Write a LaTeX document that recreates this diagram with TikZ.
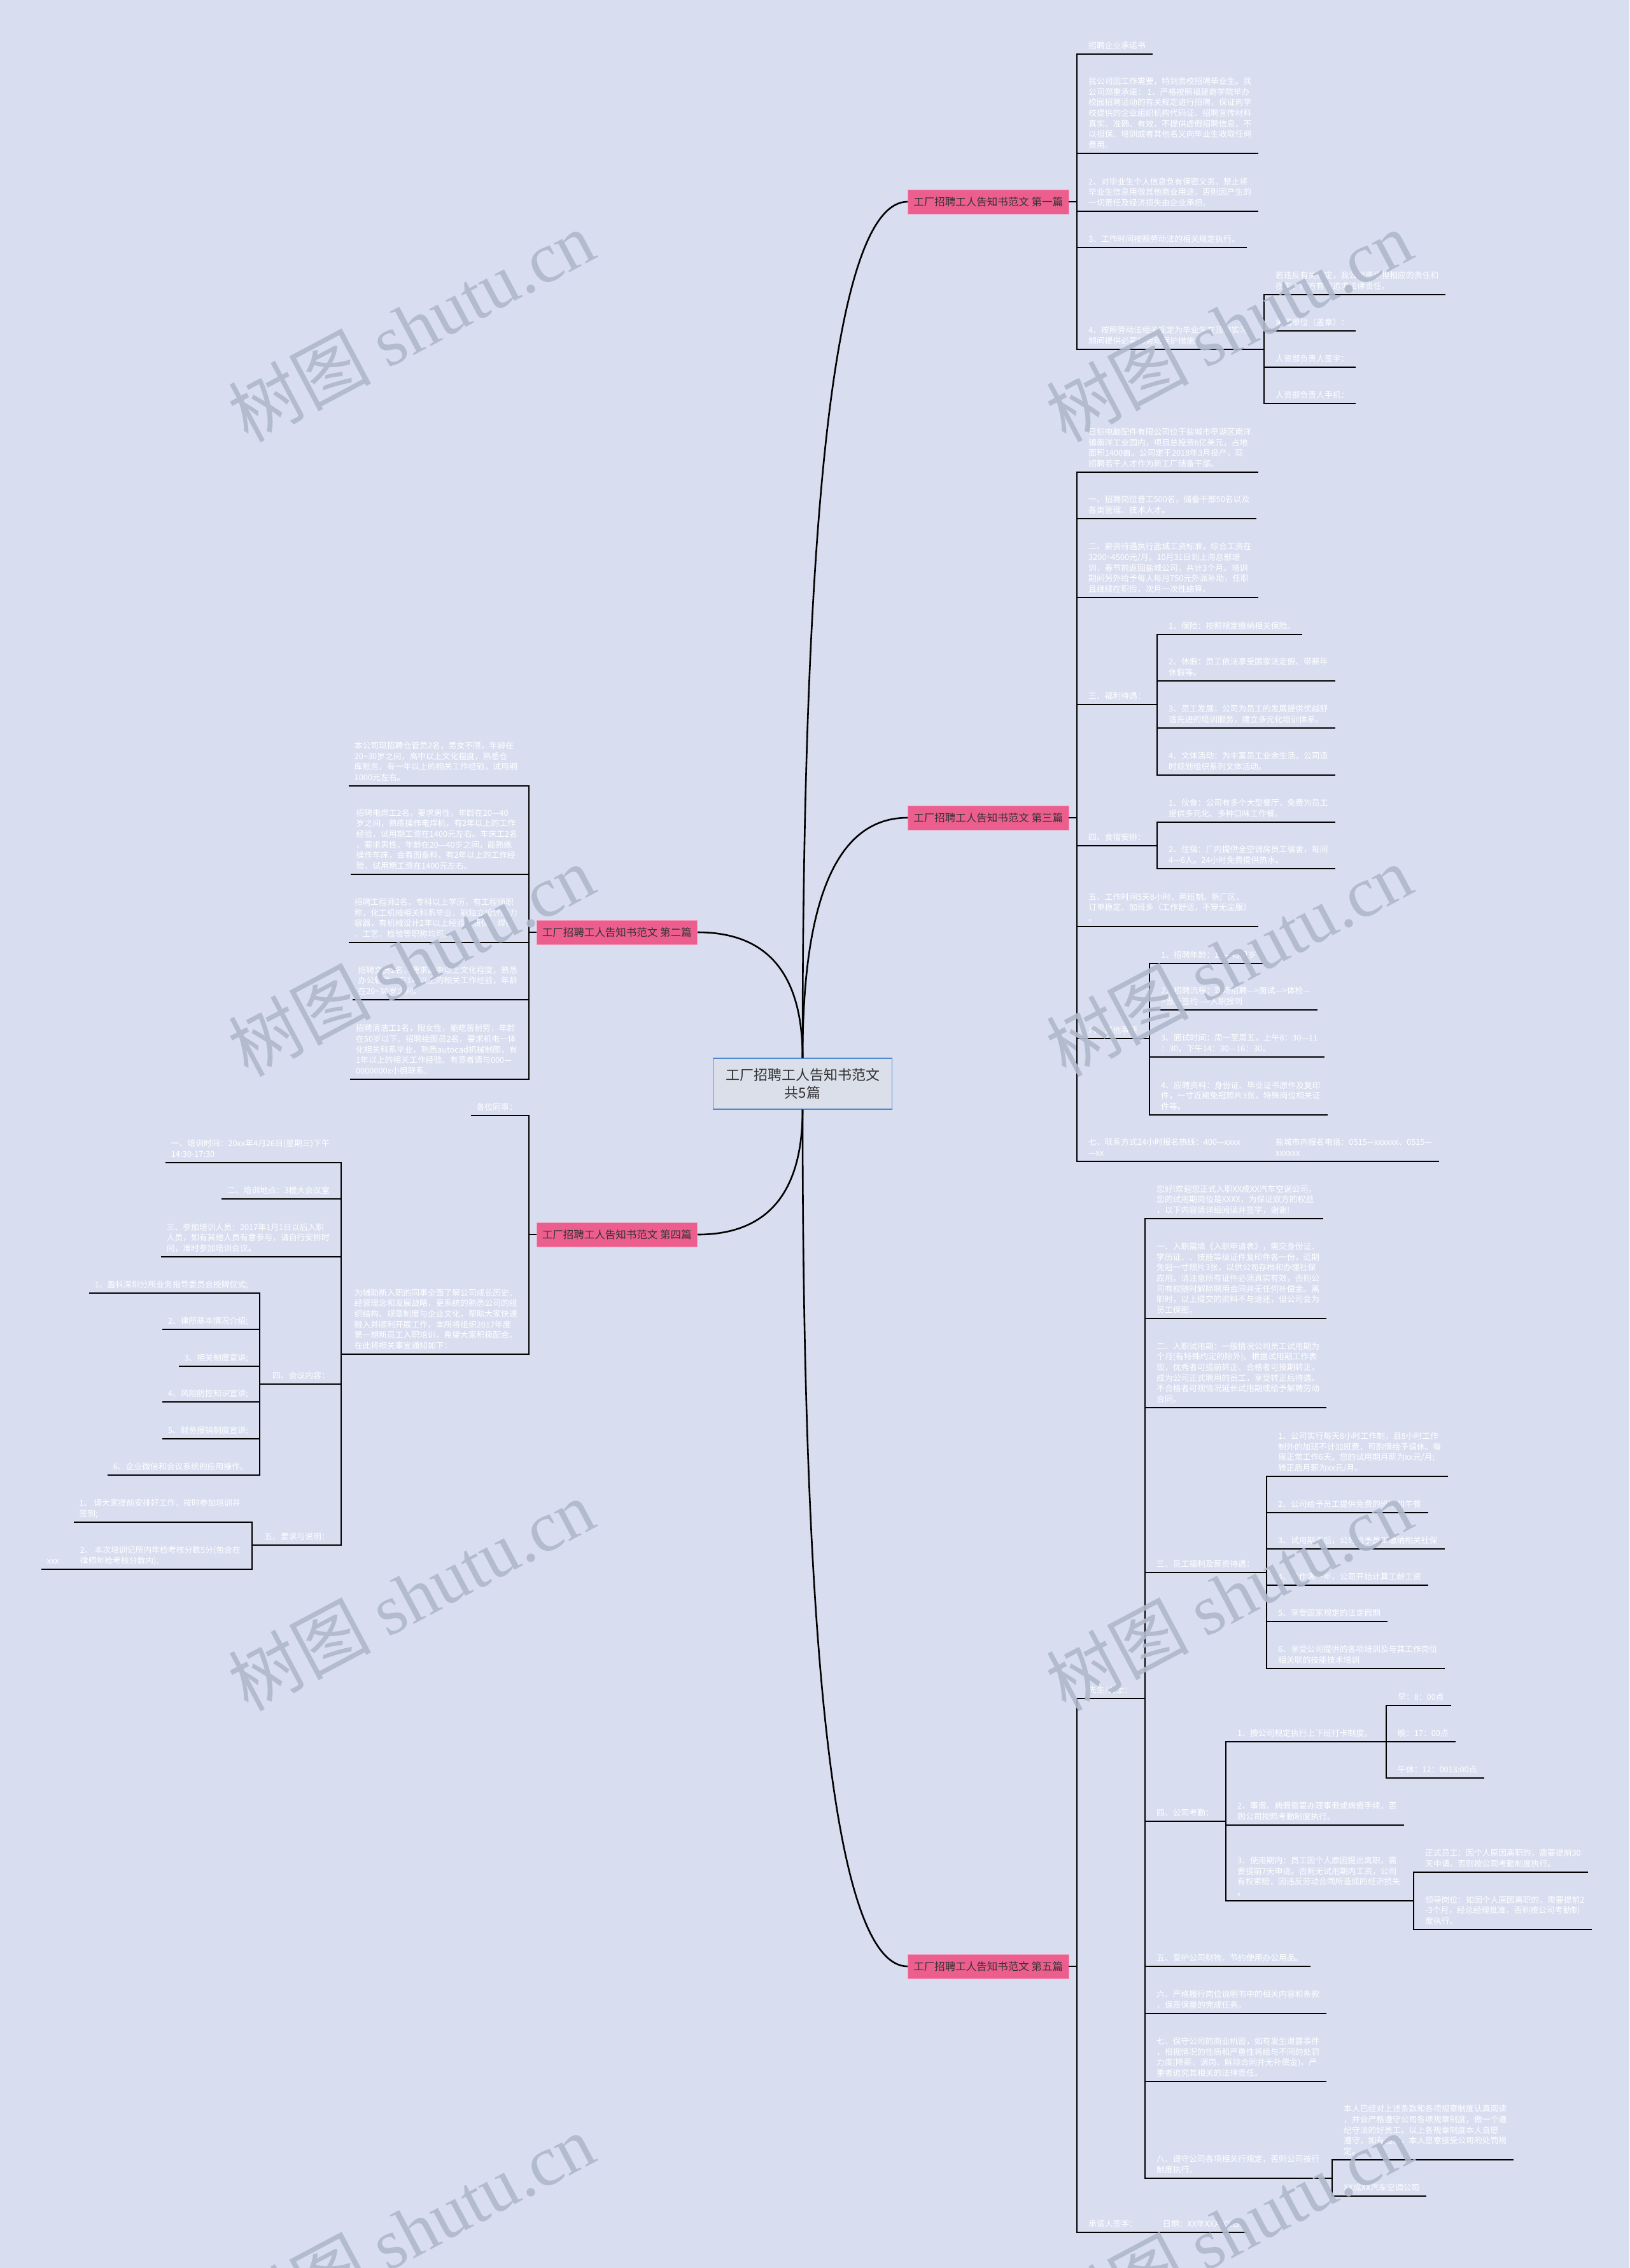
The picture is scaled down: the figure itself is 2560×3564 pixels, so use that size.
\documentclass[tikz,border=0pt]{standalone}
\usepackage{fontspec}
\setmainfont{Noto Sans CJK SC}
\newfontfamily\wmserif{Liberation Serif}
\usetikzlibrary{calc}

\definecolor{pagebg}{RGB}{216,222,240}
\definecolor{labelpink}{RGB}{236,94,141}
\definecolor{labeledge}{RGB}{244,150,184}
\definecolor{rootfill}{RGB}{219,223,233}
\definecolor{rootedge}{RGB}{80,136,210}
\definecolor{darktext}{RGB}{51,51,51}
\definecolor{markgray}{RGB}{176,184,204}

% item text sitting on its underline; #1 name, #2 spine x, #3 underline y, #4 text
\newcommand{\ritem}[4]{%
  \node[itemtext, anchor=south west] (#1) at ({#2+18},{#3-3.6}) {#4};
  \coordinate (#1-a) at (#2,#3);
  \coordinate (#1-b) at ($(#1.east |- #1-a)+(10,0)$);}
\newcommand{\litem}[4]{%
  \node[itemtext, anchor=south east] (#1) at ({#2-18},{#3-3.6}) {#4};
  \coordinate (#1-a) at (#2,#3);
  \coordinate (#1-b) at ($(#1.west |- #1-a)+(-8,0)$);}
\newcommand{\leafline}[1]{\draw[uline] (#1-a) -- (#1-b);}
\newcommand{\forkline}[2]{\draw[uline] (#1-a) -- (#1-a -| #2-a);}
\newcommand{\spineline}[2]{\draw[uline] (#1-a) -- (#2-a);}

\begin{document}
\begin{tikzpicture}[x=1pt, y=-1pt,
  itemtext/.style={text=white, font=\fontsize{12.8}{16.6}\selectfont, align=left, inner sep=0pt, execute at end node=\strut},
  uline/.style={line width=1.6pt, black, line cap=rect},
  curve/.style={line width=2.6pt, black},
  branchbox/.style={fill=labelpink, draw=labeledge, line width=0.8pt, text=darktext, font=\fontsize{16.5}{19}\selectfont, minimum height=38pt, inner xsep=9pt, inner ysep=0pt},
  rootbox/.style={fill=rootfill, draw=rootedge, line width=1.2pt, text=darktext, font=\fontsize{22}{28}\selectfont, align=center, minimum width=281pt, minimum height=80pt, inner sep=0pt},
  watermark/.style={text=markgray, opacity=0.9, rotate=28, inner sep=0pt, font=\fontsize{112}{112}\selectfont}]
  \useasboundingbox (0,0) rectangle (2560,3564);
  \fill[pagebg] (0,0) rectangle (2560,3564);

  % root
  \node[rootbox] (root) at (1261,1703) {工厂招聘工人告知书范文\\共5篇};

  % branch labels
  \node[branchbox, anchor=west] (b1) at (1426,317) {工厂招聘工人告知书范文 第一篇};
  \node[branchbox, anchor=west] (b3) at (1426,1285) {工厂招聘工人告知书范文 第三篇};
  \node[branchbox, anchor=west] (b5) at (1426,3090) {工厂招聘工人告知书范文 第五篇};
  \node[branchbox, anchor=east] (b2) at (1096,1465) {工厂招聘工人告知书范文 第二篇};
  \node[branchbox, anchor=east] (b4) at (1096,1940) {工厂招聘工人告知书范文 第四篇};

  \draw[curve] (root.north) .. controls +(0,-897) and +(-110,0) .. (b1.west);
  \draw[curve] (root.north) .. controls +(0,-252) and +(-110,0) .. (b3.west);
  \draw[curve] (root.north) .. controls +(0,-132) and +(110,0) .. (b2.east);
  \draw[curve] (root.south) .. controls +(0,131) and +(110,0) .. (b4.east);
  \draw[curve] (root.south) .. controls +(0,898) and +(-110,0) .. (b5.west);

  % ---- first text
  \ritem{p11}{1692}{85}{招聘企业承诺书}
  \ritem{p12}{1692}{241}{我公司因工作需要，特到贵校招聘毕业生。我\\公司郑重承诺： 1、严格按照福建商学院举办\\校园招聘活动的有关规定进行招聘，保证向学\\校提供的企业组织机构代码证、招聘宣传材料\\真实、准确、有效，不提供虚假招聘信息，不\\以担保、培训或者其他名义向毕业生收取任何\\费用。}
  \ritem{p13}{1692}{332}{2、对毕业生个人信息负有保密义务，禁止将\\毕业生信息用做其他商业用途，否则因产生的\\一切责任及经济损失由企业承担。}
  \ritem{p14}{1692}{389}{3、工作时间按照劳动法的相关规定执行。}
  \ritem{p15}{1692}{549}{4、按照劳动法相关规定为毕业生在顶岗实习\\期间提供必要的劳动保护措施。}
  \ritem{p151}{1986}{463}{若违反有关规定，我公司愿承担相应的责任和\\损失，校方有权追求法律责任。}
  \ritem{p152}{1986}{520}{承诺单位（盖章）：}
  \ritem{p153}{1986}{577}{人资部负责人签字：}
  \ritem{p154}{1986}{634}{人资部负责人手机：}
  \draw[uline] (b1.east) -- (b1.east -| p11-a);
  \spineline{p11}{p15}
  \leafline{p11} \leafline{p12} \leafline{p13} \leafline{p14}
  \forkline{p15}{p151} \spineline{p151}{p154}
  \leafline{p151} \leafline{p152} \leafline{p153} \leafline{p154}

  % ---- third text
  \ritem{p31}{1692}{742}{日铠电脑配件有限公司位于盐城市亭湖区南洋\\镇南洋工业园内，项目总投资6亿美元，占地\\面积1400亩。公司定于2018年3月投产，现\\招聘若干人才作为新工厂储备干部。}
  \ritem{p32}{1692}{815}{一、招聘岗位普工500名，储备干部50名以及\\各类管理、技术人才。}
  \ritem{p33}{1692}{939}{二、薪资待遇执行盐城工资标准，综合工资在\\3200\textasciitilde4500元/月。10月31日到上海总部培\\训，春节前返回盐城公司，共计3个月。培训\\期间另外给予每人每月750元外派补助，任职\\且继续在职后，次月一次性结算。}
  \ritem{p34}{1692}{1107}{三、福利待遇：}
  \ritem{p341}{1818}{997}{1、保险：按照规定缴纳相关保险。}
  \ritem{p342}{1818}{1070}{2、休假：员工依法享受国家法定假、带薪年\\休假等。}
  \ritem{p343}{1818}{1144}{3、员工发展：公司为员工的发展提供优越舒\\适先进的培训服务，建立多元化培训体系。}
  \ritem{p344}{1818}{1218}{4、文体活动：为丰富员工业余生活，公司适\\时规划组织系列文体活动。}
  \ritem{p35}{1692}{1329}{四、食宿安排：}
  \ritem{p351}{1818}{1292}{1、伙食：公司有多个大型餐厅，免费为员工\\提供多元化、多种口味工作餐。}
  \ritem{p352}{1818}{1365}{2、住宿：厂内提供全空调房员工宿舍，每间\\4—6人。24小时免费提供热水。}
  \ritem{p36}{1692}{1456}{五、工作时间5天8小时，两班制。新厂区、\\订单稳定、加班多（工作舒适，不穿无尘服）\\。}
  \ritem{p37}{1692}{1632}{六、其他事项}
  \ritem{p371}{1806}{1514}{1、招聘年龄：18—45周岁}
  \ritem{p372}{1806}{1587}{2、招聘流程：现场招聘—>面试—>体检—\\>当场签约—>入职报到}
  \ritem{p373}{1806}{1661}{3、面试时间：周一至周五，上午8：30—11\\：30，下午14：30—16：30。}
  \ritem{p374}{1806}{1752}{4、应聘资料：身份证、毕业证书原件及复印\\件，一寸近期免冠照片3张，特殊岗位相关证\\件等。}
  \ritem{p38}{1692}{1825}{七、联系方式24小时报名热线：400—xxxx\\—xx}
  \ritem{p381}{1986}{1825}{盐城市内报名电话：0515—xxxxxx、0515—\\xxxxxx}
  \draw[uline] (b3.east) -- (b3.east -| p31-a);
  \spineline{p31}{p38}
  \leafline{p31} \leafline{p32} \leafline{p33} \leafline{p36}
  \forkline{p34}{p341} \spineline{p341}{p344}
  \leafline{p341} \leafline{p342} \leafline{p343} \leafline{p344}
  \forkline{p35}{p351} \spineline{p351}{p352}
  \leafline{p351} \leafline{p352}
  \forkline{p37}{p371} \spineline{p371}{p374}
  \leafline{p371} \leafline{p372} \leafline{p373} \leafline{p374}
  \forkline{p38}{p381} \leafline{p381}

  % ---- fifth text
  \ritem{p51}{1692}{2669}{先生/女士：}
  \ritem{p511}{1799}{1915}{您好!欢迎您正式入职XX成XX汽车空调公司，\\您的试用期岗位是XXXX，为保证双方的权益\\，以下内容请详细阅读并签字，谢谢!}
  \ritem{p512}{1799}{2072}{一、入职需填《入职申请表》，需交身份证、\\学历证、、技能等级证件复印件各一份，近期\\免冠一寸照片3张，以供公司存档和办理社保\\应用。请注意所有证件必须真实有效，否则公\\司有权随时解除聘用合同并无任何补偿金。离\\职时，以上提交的资料不与退还，但公司会为\\员工保密。}
  \ritem{p513}{1799}{2212}{二、入职试用期：一般情况公司员工试用期为\\个月(有特殊约定的除外)。根据试用期工作表\\现，优秀者可提前转正、合格者可按期转正，\\成为公司正式聘用的员工，享受转正后待遇。\\不合格者可视情况延长试用期或给予解聘劳动\\合同。}
  \ritem{p514}{1799}{2471}{三、员工福利及薪资待遇：}
  \ritem{p5141}{1990}{2320}{1、公司实行每天8小时工作制，且8小时工作\\制外的加班不计加班费，可酌情给予调休。每\\周正常工作6天。您的试用期月薪为xx元/月;\\转正后月薪为xx元/月。}
  \ritem{p5142}{1990}{2377}{2、公司给予员工提供免费的班车和午餐}
  \ritem{p5143}{1990}{2434}{3、试用期满后，公司给予员工缴纳相关社保}
  \ritem{p5144}{1990}{2491}{4、工作满一年，公司开始计算工龄工资}
  \ritem{p5145}{1990}{2548}{5、享受国家规定的法定假期}
  \ritem{p5146}{1990}{2622}{6、享受公司提供的各项培训及与其工作岗位\\相关联的技能技术培训}
  \ritem{p515}{1799}{2862}{四、公司考勤：}
  \ritem{p5151}{1926}{2737}{1、按公司规定执行上下班打卡制度。}
  \ritem{p51511}{2178}{2680}{早：8：00点}
  \ritem{p51512}{2178}{2737}{晚：17：00点}
  \ritem{p51513}{2178}{2794}{午休：12：0013:00点}
  \ritem{p5152}{1926}{2868}{2、事假、病假需要办理事假或病假手续，否\\则公司按照考勤制度执行。}
  \ritem{p5153}{1926}{2987}{3、使用期内：员工因个人原因提出离职，需\\要提前7天申请。否则无试用期内工资，公司\\有权索赔，因违反劳动合同所造成的经济损失\\。}
  \ritem{p51531}{2221}{2942}{正式员工：因个人原因离职的，需要提前30\\天申请。否则按公司考勤制度执行。}
  \ritem{p51532}{2221}{3032}{领导岗位：如因个人原因离职的，需要提前2\\-3个月，经总经理批准，否则按公司考勤制\\度执行。}
  \ritem{p516}{1799}{3090}{五、爱护公司财物，节约使用办公用品。}
  \ritem{p517}{1799}{3164}{六、严格履行岗位说明书中的相关内容和条款\\，保质保量的完成任务。}
  \ritem{p518}{1799}{3271}{七、保守公司的商业机密，如有发生泄露事件\\，根据情况的性质和严重性将给与不同的处罚\\力度(降薪、调岗、解除合同并无补偿金)，严\\重者追究其相关的法律责任。}
  \ritem{p519}{1799}{3423}{八、遵守公司各项相关行规定，否则公司按行\\制度执行。}
  \ritem{p5191}{2093}{3394}{本人已经对上述条款和各项规章制度认真阅读\\，并会严格遵守公司各项规章制度，做一个遵\\纪守法的好员工。以上各规章制度本人自愿\\遵守，如有违规，本人愿意接受公司的处罚规\\定。}
  \ritem{p5192}{2093}{3451}{XX成XX汽车空调公司}
  \ritem{p52}{1692}{3508}{承诺人签字：\hspace{40pt}日期：XX年XX月XX日}
  \draw[uline] (b5.east) -- (b5.east -| p51-a);
  \spineline{p51}{p52}
  \forkline{p51}{p511} \spineline{p511}{p519}
  \leafline{p511} \leafline{p512} \leafline{p513}
  \forkline{p514}{p5141} \spineline{p5141}{p5146}
  \leafline{p5141} \leafline{p5142} \leafline{p5143} \leafline{p5144} \leafline{p5145} \leafline{p5146}
  \forkline{p515}{p5151} \spineline{p5151}{p5153}
  \forkline{p5151}{p51511} \spineline{p51511}{p51513}
  \leafline{p51511} \leafline{p51512} \leafline{p51513}
  \leafline{p5152}
  \forkline{p5153}{p51531} \spineline{p51531}{p51532}
  \leafline{p51531} \leafline{p51532}
  \leafline{p516} \leafline{p517} \leafline{p518}
  \forkline{p519}{p5191} \spineline{p5191}{p5192}
  \leafline{p5191} \leafline{p5192}
  \leafline{p52}

  % ---- second text (left)
  \litem{q21}{831}{1235}{本公司现招聘仓管员2名，男女不限，年龄在\\20\textasciitilde30岁之间，高中以上文化程度，熟悉仓\\库账务，有一年以上的相关工作经验，试用期\\1000元左右。}
  \litem{q22}{831}{1374}{招聘电焊工2名，要求男性，年龄在20—40\\岁之间，熟练操作电焊机，有2年以上的工作\\经验，试用期工资在1400元左右。车床工2名\\，要求男性，年龄在20—40岁之间，能熟练\\操作车床，会看图备料，有2年以上的工作经\\验，试用期工资在1400元左右。}
  \litem{q23}{831}{1481}{招聘工程师2名，专科以上学历，有工程师职\\称，化工机械相关科系毕业，能独立设计压力\\容器，有机械设计2年以上经验，质保，焊接\\，工艺，检验等职称均可。}
  \litem{q24}{831}{1571}{招聘文员2名，要求高中以上文化程度，熟悉\\办公软件，有1年以上的相关工作经验，年龄\\在20\textasciitilde30岁之间。}
  \litem{q25}{831}{1696}{招聘清洁工1名，限女性，能吃苦耐劳，年龄\\在50岁以下。招聘绘图员2名，要求机电一体\\化相关科系毕业，熟悉autocad机械制图，有\\1年以上的相关工作经验。有意者请与000—\\0000000x小姐联系。}
  \draw[uline] (b2.west) -- (b2.west -| q21-a);
  \spineline{q21}{q25}
  \leafline{q21} \leafline{q22} \leafline{q23} \leafline{q24} \leafline{q25}

  % ---- fourth text (left)
  \litem{q41}{831}{1753}{各位同事：}
  \litem{q42}{831}{2128}{为辅助新入职的同事全面了解公司成长历史、\\经营理念和发展战略，更系统的熟悉公司的组\\织结构、规章制度与企业文化，帮助大家快速\\融入并顺利开展工作，本所将组织2017年度\\第一期新员工入职培训，希望大家积极配合。\\在此将相关事宜通知如下：}
  \litem{q421}{536}{1827}{一、培训时间：20xx年4月26日(星期三)下午\\14:30-17:30}
  \litem{q422}{536}{1884}{二、培训地点：3楼大会议室}
  \litem{q423}{536}{1975}{三、参加培训人员：2017年1月1日以后入职\\人员，如有其他人员有意参与，请自行安排时\\间，准时参加培训会议。}
  \litem{q424}{536}{2175}{四、会议内容：}
  \litem{q4241}{408}{2032}{1、盈科深圳分所业务指导委员会授牌仪式;}
  \litem{q4242}{408}{2089}{2、律所基本情况介绍;}
  \litem{q4243}{408}{2147}{3、相关制度宣讲;}
  \litem{q4244}{408}{2203}{4、风险防控知识宣讲;}
  \litem{q4245}{408}{2261}{5、财务报销制度宣讲;}
  \litem{q4246}{408}{2318}{6、企业微信和会议系统的应用操作。}
  \litem{q425}{536}{2428}{五、要求与说明：}
  \litem{q4251}{396}{2392}{1、 请大家提前安排好工作，按时参加培训并\\签到;}
  \litem{q4252}{396}{2466}{2、 本次培训记所内年检考核分数5分(包含在\\律师年检考核分数内)。}
  \litem{q42521}{111}{2466}{xxx}
  \draw[uline] (b4.west) -- (b4.west -| q41-a);
  \spineline{q41}{q42}
  \leafline{q41}
  \forkline{q42}{q421} \spineline{q421}{q425}
  \leafline{q421} \leafline{q422} \leafline{q423}
  \forkline{q424}{q4241} \spineline{q4241}{q4246}
  \leafline{q4241} \leafline{q4242} \leafline{q4243} \leafline{q4244} \leafline{q4245} \leafline{q4246}
  \forkline{q425}{q4251} \spineline{q4251}{q4252}
  \leafline{q4251}
  \forkline{q4252}{q42521} \leafline{q42521}

  % watermarks
  \foreach \wx/\wy [count=\i] in {646/512, 1931/512, 646/1509, 1931/1509, 646/2506, 1931/2506, 646/3503, 1931/3503}
    \node[watermark] (wm\i) at (\wx,\wy) {树图 {\wmserif shutu.cn}};
\end{tikzpicture}
\end{document}
